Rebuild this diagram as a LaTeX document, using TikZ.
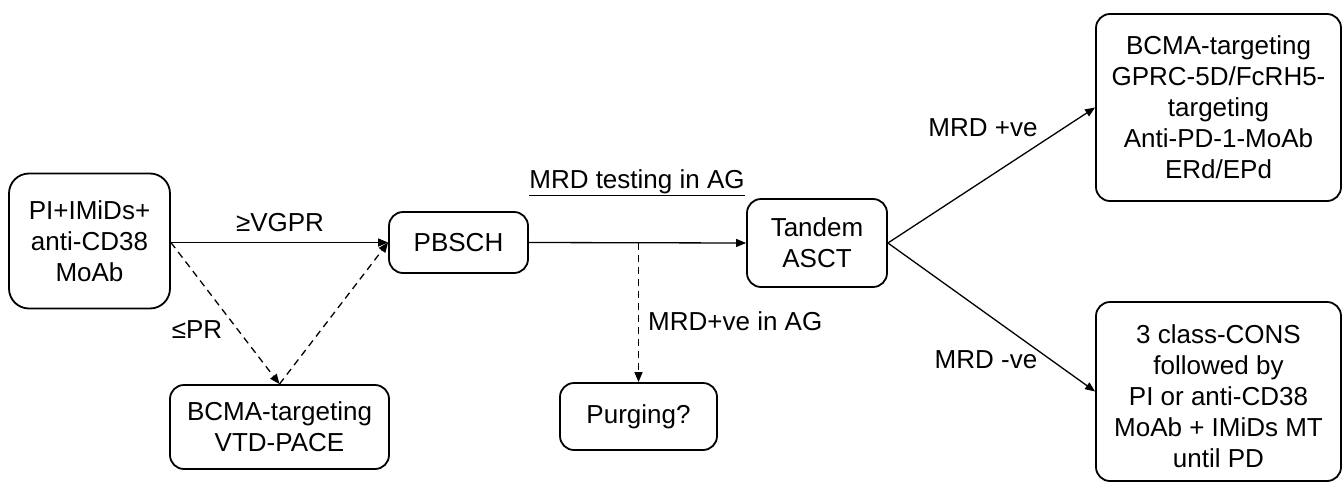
\documentclass[tikz,border=0pt]{standalone}
\usepackage{fontspec}
\setmainfont{Liberation Sans}
\usetikzlibrary{arrows.meta,calc}
\begin{document}
\begin{tikzpicture}[x=1pt,y=-1pt,
  box/.style={draw,line width=1.8pt,rounded corners=14pt,align=center,inner sep=0pt},
  conn/.style={line width=1.3pt,-{Triangle[length=10pt,width=8pt]}},
  dconn/.style={conn,dash pattern=on 7pt off 5pt},
  lab/.style={inner sep=0pt},
  every node/.style={font=\fontsize{26}{31}\selectfont}]
\useasboundingbox (0,0) rectangle (1344,482);
\node[box,rounded corners=20pt,minimum width=161pt,minimum height=135pt] (b1) at (89.5,241) {PI+IMiDs+\\anti-CD38\\MoAb};
\node[box,minimum width=219pt,minimum height=84pt] (b2) at (279.5,427) {BCMA-targeting\\VTD-PACE};
\node[box,minimum width=139pt,minimum height=61pt] (pb) at (458.5,242.5) {PBSCH};
\node[box,minimum width=157pt,minimum height=67pt] (pu) at (638.5,416.5) {Purging?};
\node[box,minimum width=140pt,minimum height=88pt] (ta) at (817,243) {Tandem\\ASCT};
\node[box,minimum width=245pt,minimum height=187pt] (tr) at (1218.5,107.5) {BCMA-targeting\\GPRC-5D/FcRH5-\\targeting\\Anti-PD-1-MoAb\\ERd/EPd};
\node[box,minimum width=245pt,minimum height=179pt] (br) at (1218.5,391.5) {};
\node[lab,align=center] (brtext) at (1218.5,396) {3 class-CONS\\followed by\\PI or anti-CD38\\MoAb + IMiDs MT\\until PD};
% labels
\node[lab] (lvgpr) at (280,223) {≥VGPR};
\node[lab] (lpr) at (197,330) {≤PR};
\node[lab] (lmrdt) at (637,183) {\underline{MRD testing in AG}};
\node[lab,anchor=west] (lmrdag) at (648,321) {MRD+ve in AG};
\node[lab] (lpos) at (983,128) {MRD +ve};
\node[lab] (lneg) at (986,360) {MRD -ve};
% connectors
\coordinate (b1out) at (b1.east |- pb.west);
\coordinate (split) at (pu.north |- pb.east);
\draw[conn] (b1out) -- (pb.west);
\draw[dconn] (b1out) -- (b2.north);
\draw[dconn] (b2.north) -- (pb.west);
\draw[conn] (pb.east) -- (ta.west);
\draw[dconn] (split) -- (pu.north);
\draw[conn] (ta.east) -- (tr.west);
\draw[conn] (ta.east) -- (br.west);
\end{tikzpicture}
\end{document}
